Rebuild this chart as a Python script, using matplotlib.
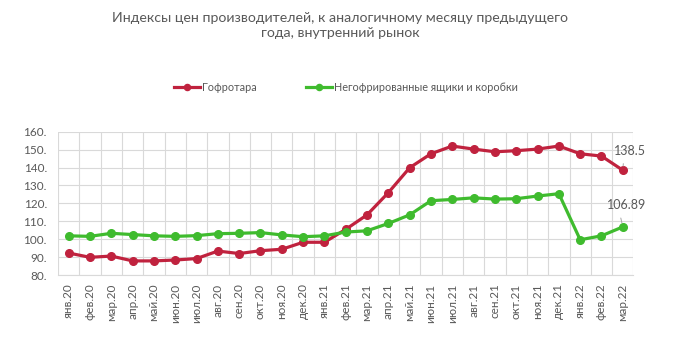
import matplotlib.pyplot as plt
from matplotlib.ticker import FuncFormatter

plt.rcParams['font.family'] = ['Lato', 'DejaVu Sans']

months = ['янв.20', 'фев.20', 'мар.20', 'апр.20', 'май.20', 'июн.20', 'июл.20',
          'авг.20', 'сен.20', 'окт.20', 'ноя.20', 'дек.20', 'янв.21', 'фев.21',
          'мар.21', 'апр.21', 'май.21', 'июн.21', 'июл.21', 'авг.21', 'сен.21',
          'окт.21', 'ноя.21', 'дек.21', 'янв.22', 'фев.22', 'мар.22']

gofrotara = [92.3, 89.9, 90.6, 87.9, 87.9, 88.4, 89.2, 93.4, 92.0, 93.6, 94.4,
             98.3, 98.3, 105.5, 113.6, 126.0, 139.9, 147.7, 152.0, 150.3, 148.8,
             149.4, 150.3, 152.0, 147.7, 146.4, 138.5]

negofr = [101.9, 101.6, 103.3, 102.6, 101.9, 101.6, 102.0, 103.1, 103.3, 103.7,
          102.4, 101.4, 101.9, 104.0, 104.7, 108.8, 113.6, 121.5, 122.2, 123.1,
          122.4, 122.6, 124.1, 125.4, 99.7, 101.9, 106.89]

red = '#c0223e'
green = '#3fbb2e'
grey = '#595959'

fig = plt.figure(figsize=(6.81, 3.4), dpi=100)
ax = fig.add_axes([0.0852, 0.191, 0.845, 0.4216])

x = list(range(len(months)))
ax.plot(x, gofrotara, color=red, lw=2.3, marker='o', ms=5.5, label='Гофротара')
ax.plot(x, negofr, color=green, lw=2.3, marker='o', ms=5.5,
        label='Негофрированные ящики и коробки')

ax.set_xlim(-0.5, len(months) - 0.5)
ax.set_ylim(80, 160)
ax.set_yticks(range(80, 161, 10))
ax.yaxis.set_major_formatter(FuncFormatter(lambda v, p: '%d.' % v))
ax.set_xticks(x)
ax.set_xticklabels(months, rotation=90)
ax.set_xticks([i - 0.5 for i in range(len(months) + 1)], minor=True)
ax.grid(True, axis='y', color='#d9d9d9', lw=0.8)
ax.grid(True, axis='x', which='minor', color='#d9d9d9', lw=0.8)
ax.tick_params(axis='both', which='both', length=0, colors=grey, labelsize=8.5)
ax.tick_params(axis='x', pad=6)
ax.tick_params(axis='y', pad=8)
for s in ax.spines.values():
    s.set_visible(False)
ax.spines['bottom'].set_visible(True)
ax.spines['bottom'].set_color('#d9d9d9')

# подписи последних значений с выносками
line_props = dict(arrowstyle='-', color='#a6a6a6', lw=0.7,
                  shrinkA=-3, shrinkB=3, relpos=(0.3, 0.0))
ax.annotate('138.5', xy=(x[-1], gofrotara[-1]), xytext=(x[-1] + 0.35, 149.4),
            color=grey, fontsize=9, ha='center', va='center',
            arrowprops=line_props)
ax.annotate('106.89', xy=(x[-1], negofr[-1]), xytext=(x[-1] + 0.2, 119),
            color=grey, fontsize=9, ha='center', va='center',
            arrowprops=line_props)

fig.suptitle('Индексы цен производителей, к аналогичному месяцу предыдущего\nгода, внутренний рынок',
             x=0.5, y=0.965, fontsize=10.2, color=grey, linespacing=1.35)
fig.legend(loc='center', bbox_to_anchor=(0.508, 0.742), ncol=2, frameon=False,
           fontsize=7.8, labelcolor=grey, handlelength=2.4, handletextpad=0.2,
           columnspacing=4.6, markerscale=0.8)

fig.savefig('out.png', dpi=100)
